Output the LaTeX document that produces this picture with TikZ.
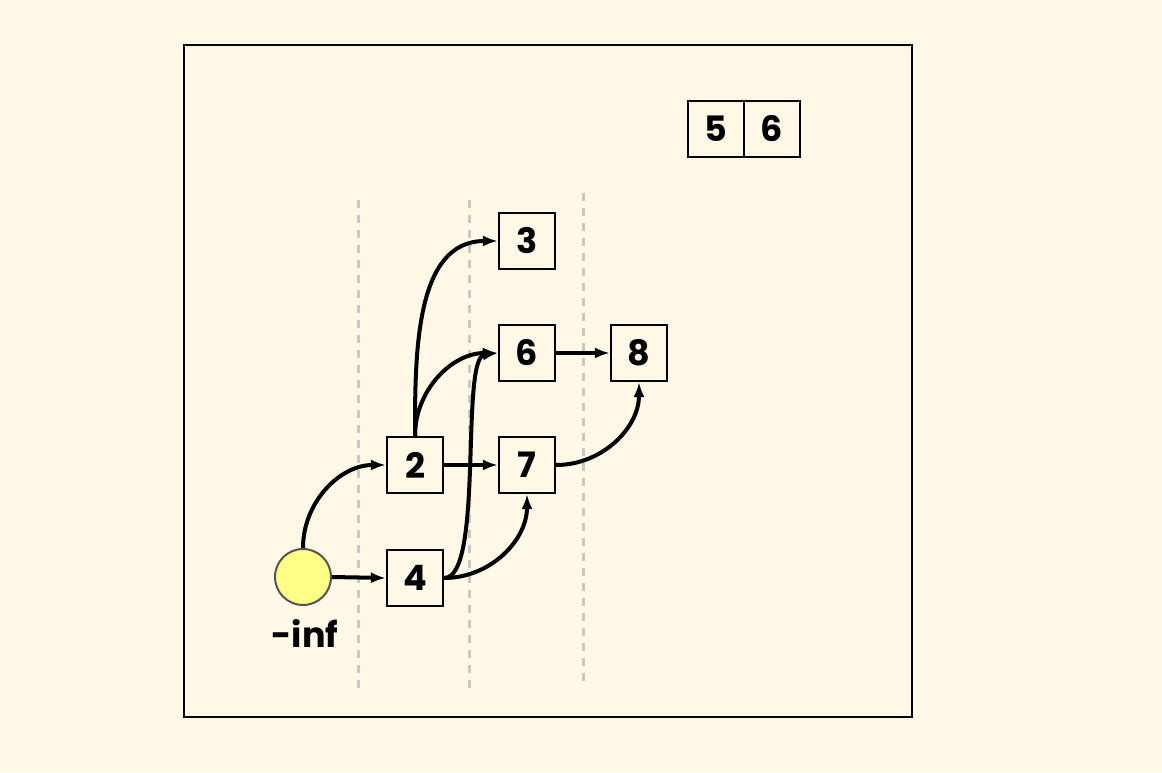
\documentclass[tikz,border=0pt]{standalone}
\usepackage{fontspec}
\setmainfont{Poppins}
\usetikzlibrary{arrows.meta}
\definecolor{bgc}{HTML}{FFF8E7}
\definecolor{dashc}{HTML}{C8C8C8}
\definecolor{yel}{HTML}{FFFF88}
\definecolor{circb}{HTML}{555555}
\begin{document}
\begin{tikzpicture}[x=1pt,y=-1pt,
  lbl/.style={font=\fontsize{35}{37}\selectfont\bfseries},
  cell/.style={draw=black,line width=2.2pt,minimum size=56pt,inner sep=0pt,lbl},
  edge/.style={line width=4pt,-{Latex[length=15pt,width=11pt]}},
  guide/.style={dashc,line width=3pt,dash pattern=on 8pt off 7pt}]
\fill[bgc] (0,0) rectangle (1162,772);
\useasboundingbox (0,0) rectangle (1162,772);
\node[draw=black,line width=2.2pt,minimum width=728pt,minimum height=672pt,inner sep=0pt] (frame) at (548,381) {};
% guides
\coordinate (g1t) at (358,200); \coordinate (g1b) at (358,688);
\coordinate (g2t) at (469,200); \coordinate (g2b) at (469,688);
\coordinate (g3t) at (583,193); \coordinate (g3b) at (583,688);
\draw[guide] (g1t) -- (g1b);
\draw[guide] (g2t) -- (g2b);
\draw[guide] (g3t) -- (g3b);
% array
\node[cell] (a5) at (716,129) {5};
\node[cell] (a6) at (772,129) {6};
% nodes
\node[circle,draw=circb,line width=2pt,fill=yel,minimum size=56pt,inner sep=0pt] (inf) at (303,577) {};
\node[lbl] (infl) at (305,633) {-inf};
\node[cell] (n2) at (415,465) {2};
\node[cell] (n4) at (415,578) {4};
\node[cell] (n3) at (527,241) {3};
\node[cell] (n6) at (527,353) {6};
\node[cell] (n7) at (527,465) {7};
\node[cell] (n8) at (639,353) {8};
% edges
\draw[edge] (inf.north) to[out=90,in=180] (n2.west);
\draw[edge] (inf.east) -- (n4.west);
\draw[edge] (n2.north) to[out=90,in=180] (n3.west);
\draw[edge] (n2.north) to[out=90,in=180] (n6.west);
\draw[edge] (n4.east) .. controls +(40,0) and +(-38,5) .. (n6.west);
\draw[edge] (n4.east) to[out=0,in=-90] (n7.south);
\draw[edge] (n2.east) -- (n7.west);
\draw[edge] (n6.east) -- (n8.west);
\draw[edge] (n7.east) to[out=0,in=-90] (n8.south);
\end{tikzpicture}
\end{document}
